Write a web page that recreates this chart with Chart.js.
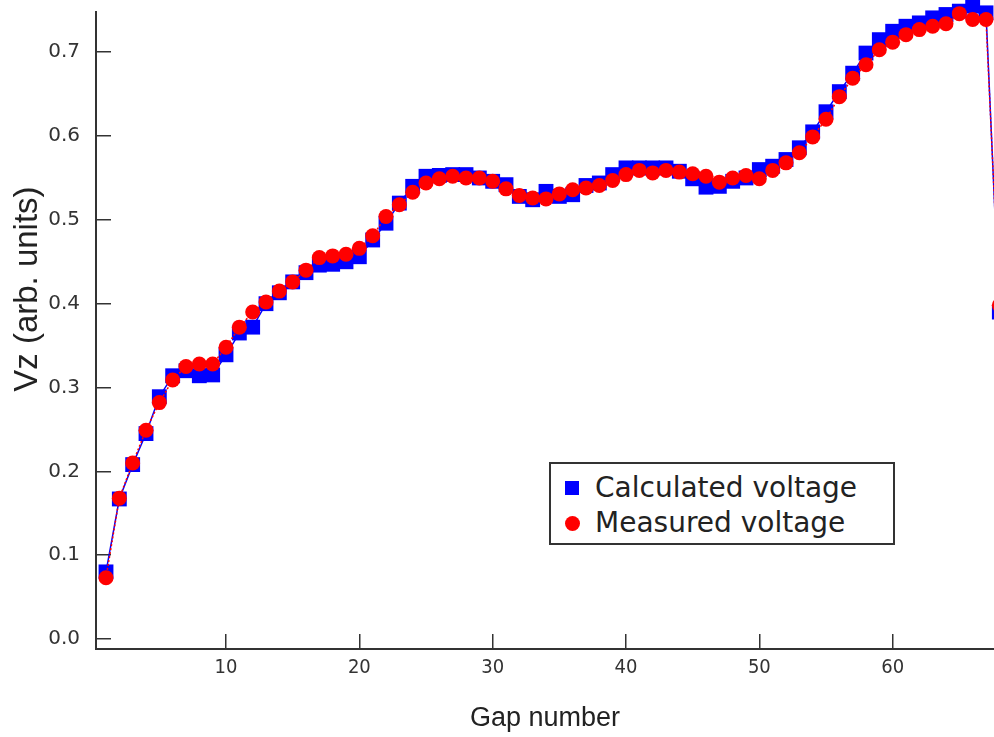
<!DOCTYPE html>
<html>
<head>
<meta charset="utf-8">
<script src="https://cdn.jsdelivr.net/npm/chart.js@4.4.1/dist/chart.umd.min.js"></script>
<style>
  body { margin: 0; background: #fff; }
  #wrap { position: relative; width: 994px; height: 737px; }
  #legenda {
    position: absolute; left: 549px; top: 462px; width: 342px; height: 79px;
    border: 2px solid #333; background: #fff;
    font-family: "DejaVu Sans", sans-serif; font-size: 28px; color: #222;
  }
  .item { position: absolute; left: 0; height: 34px; line-height: 34px; white-space: nowrap; }
  .marca { position: absolute; left: 14px; top: 10px; width: 14px; height: 14px; }
  .txt { position: absolute; left: 44px; top: 0; }
</style>
</head>
<body>
<div id="wrap">
  <canvas id="grafico"></canvas>
  <div id="legenda"></div>
</div>
<script>
// dados
var gapNumbers = [1, 2, 3, 4, 5, 6, 7, 8, 9, 10, 11, 12, 13, 14, 15, 16, 17, 18, 19, 20,
  21, 22, 23, 24, 25, 26, 27, 28, 29, 30, 31, 32, 33, 34, 35, 36, 37, 38, 39, 40,
  41, 42, 43, 44, 45, 46, 47, 48, 49, 50, 51, 52, 53, 54, 55, 56, 57, 58, 59, 60,
  61, 62, 63, 64, 65, 66, 67, 68];

var calculatedVoltage = [0.080, 0.167, 0.208, 0.245, 0.289, 0.314, 0.320, 0.314, 0.315, 0.339,
  0.365, 0.372, 0.400, 0.413, 0.426, 0.437, 0.446, 0.447, 0.450, 0.456,
  0.476, 0.496, 0.520, 0.540, 0.552, 0.553, 0.554, 0.554, 0.550, 0.546,
  0.542, 0.528, 0.524, 0.534, 0.528, 0.530, 0.541, 0.544, 0.554, 0.562,
  0.562, 0.562, 0.562, 0.558, 0.549, 0.539, 0.540, 0.546, 0.550, 0.560,
  0.564, 0.572, 0.586, 0.605, 0.629, 0.653, 0.675, 0.699, 0.715, 0.725,
  0.731, 0.735, 0.741, 0.745, 0.749, 0.755, 0.747, 0.390];

var measuredVoltage = [0.073, 0.168, 0.210, 0.249, 0.282, 0.309, 0.325, 0.328, 0.328, 0.348,
  0.372, 0.390, 0.402, 0.415, 0.426, 0.440, 0.455, 0.457, 0.459, 0.466,
  0.481, 0.504, 0.518, 0.533, 0.544, 0.549, 0.552, 0.550, 0.550, 0.546,
  0.537, 0.529, 0.526, 0.525, 0.531, 0.536, 0.538, 0.541, 0.547, 0.554,
  0.559, 0.556, 0.559, 0.557, 0.555, 0.552, 0.545, 0.550, 0.553, 0.549,
  0.559, 0.568, 0.580, 0.599, 0.620, 0.647, 0.669, 0.685, 0.703, 0.712,
  0.721, 0.727, 0.731, 0.734, 0.746, 0.739, 0.739, 0.398];

var xTicks = [10, 20, 30, 40, 50, 60];
var yTicks = [0.0, 0.1, 0.2, 0.3, 0.4, 0.5, 0.6, 0.7];

function pontos(valores) {
  return gapNumbers.map(function (g, i) {
    return { x: g, y: valores[i] };
  });
}

// titulo do eixo y desenhado um pouco acima do centro, como no original
var tituloY = {
  id: "tituloY",
  afterDraw: function (chart) {
    var ctx = chart.ctx;
    var area = chart.chartArea;
    ctx.save();
    ctx.translate(28, area.top + (area.bottom - area.top) * 0.435);
    ctx.rotate(-Math.PI / 2);
    ctx.font = '33px "Liberation Sans"';
    ctx.fillStyle = "#222";
    ctx.textAlign = "center";
    ctx.textBaseline = "middle";
    ctx.fillText("Vz (arb. units)", 0, 0);
    ctx.restore();
  },
};

var chart = new Chart(document.getElementById("grafico"), {
  type: "line",
  data: {
    datasets: [
      {
        label: "Calculated voltage",
        data: pontos(calculatedVoltage),
        borderColor: "#0000ff",
        backgroundColor: "#0000ff",
        borderWidth: 1.5,
        pointStyle: "rect",
        pointRadius: 10.5,
        pointBorderWidth: 0,
        clip: false,
        order: 1,
      },
      {
        label: "Measured voltage",
        data: pontos(measuredVoltage),
        borderColor: "#ff0000",
        backgroundColor: "#ff0000",
        borderWidth: 1.5,
        borderDash: [2, 2],
        pointStyle: "circle",
        pointRadius: 7.5,
        pointBorderWidth: 0,
        clip: false,
        order: 0,
      },
    ],
  },
  options: {
    responsive: true,
    maintainAspectRatio: false,
    animation: false,
    layout: { autoPadding: false, padding: { top: 12, right: 0, left: 0, bottom: 0 } },
    plugins: {
      legend: { display: false },
      tooltip: { enabled: false },
    },
    scales: {
      x: {
        type: "linear",
        min: 0.25,
        max: 67.6,
        afterBuildTicks: function (s) {
          s.ticks = xTicks.map(function (v) { return { value: v }; });
        },
        afterFit: function (s) {
          s.height = 88;
          s.paddingLeft = 0;
          s.paddingRight = 0;
        },
        border: { color: "#333", width: 2 },
        grid: { drawOnChartArea: false, tickLength: -15, tickColor: "#333", lineWidth: 1.5 },
        ticks: {
          padding: 22,
          color: "#333",
          font: { family: '"Liberation Sans Narrow", "DejaVu Sans Condensed", "Liberation Sans"', size: 20 },
        },
        title: {
          display: true,
          text: "Gap number",
          color: "#222",
          font: { family: "Liberation Sans", size: 27 },
          padding: { top: 0, bottom: 2 },
        },
      },
      y: {
        min: -0.012,
        max: 0.748,
        afterBuildTicks: function (s) {
          s.ticks = yTicks.map(function (v) { return { value: v }; });
        },
        afterFit: function (s) {
          s.width = 96;
          s.paddingTop = 0;
          s.paddingBottom = 0;
        },
        border: { color: "#333", width: 2 },
        grid: { drawOnChartArea: false, tickLength: -15, tickColor: "#333", lineWidth: 1.5 },
        ticks: {
          padding: 31,
          color: "#333",
          font: { family: "DejaVu Sans", size: 20 },
          callback: function (v) { return v.toFixed(1); },
        },
      },
    },
  },
  plugins: [tituloY],
});

// legenda em html, montada a partir dos datasets
var legenda = document.getElementById("legenda");
chart.data.datasets.forEach(function (ds, i) {
  var item = document.createElement("div");
  item.className = "item";
  item.style.top = (7 + i * 35) + "px";
  var marca = document.createElement("div");
  marca.className = "marca";
  marca.style.background = ds.backgroundColor;
  if (ds.pointStyle == "circle") {
    marca.style.borderRadius = "50%";
    marca.style.width = "15px";
    marca.style.height = "15px";
  }
  var txt = document.createElement("span");
  txt.className = "txt";
  txt.textContent = ds.label;
  item.appendChild(marca);
  item.appendChild(txt);
  legenda.appendChild(item);
});
</script>
</body>
</html>
